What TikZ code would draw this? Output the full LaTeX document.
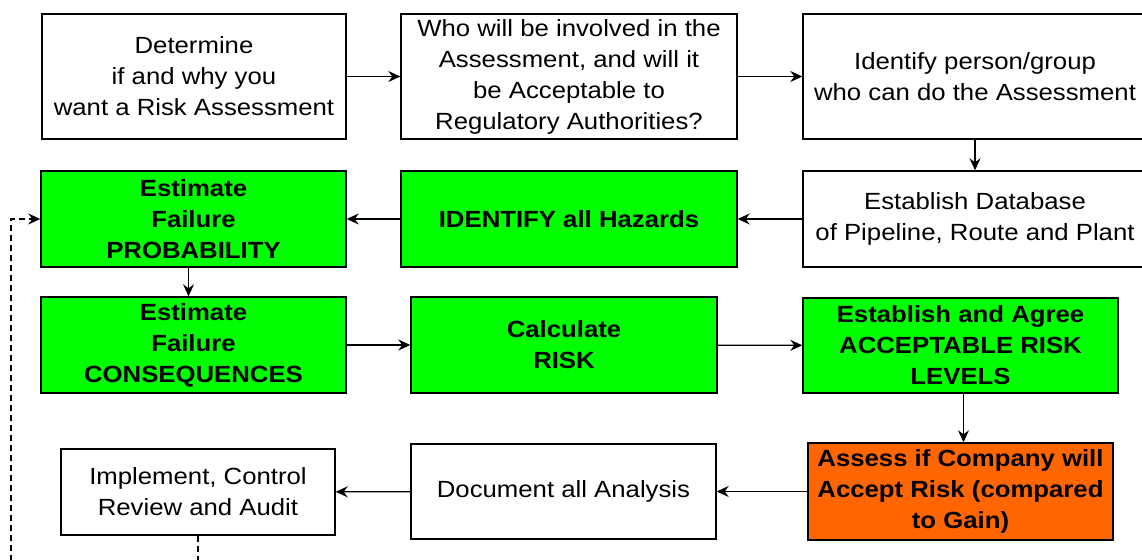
\documentclass[tikz,border=0pt]{standalone}
\usepackage{fontspec}
\setmainfont{Liberation Sans}[FakeStretch=1.1]
\usetikzlibrary{arrows.meta}

\definecolor{stepgreen}{RGB}{0,255,0}
\definecolor{steporange}{RGB}{255,102,0}

\begin{document}
\begin{tikzpicture}[x=1pt, y=-1pt,
    every node/.style={font=\fontsize{23.4}{31}\selectfont, align=center, inner sep=0pt},
    stepbox/.style={draw, line width=1.4pt, fill=white},
    riskbox/.style={stepbox, fill=stepgreen, font=\fontsize{23.4}{31}\selectfont\bfseries},
    gainbox/.style={stepbox, fill=steporange, font=\fontsize{23.4}{31}\selectfont\bfseries},
    flow/.style={line width=1.3pt, -{Stealth[length=12pt, width=11pt, inset=4pt]}}]
  \useasboundingbox (0,0) rectangle (1142,559);
  \clip (0,0) rectangle (1142,559);

  % First row
  \node[stepbox, minimum width=304, minimum height=125] (determine) at (194,76.5)
    {Determine\\ if and why you\\ want a Risk Assessment};
  \node[stepbox, minimum width=336, minimum height=125] (involved) at (569,76.5)
    {Who will be involved in the\\ Assessment, and will it\\ be Acceptable to\\ Regulatory Authorities?};
  \node[stepbox, minimum width=344, minimum height=125] (person) at (975,76.5)
    {Identify person/group\\ who can do the Assessment};

  % Second row
  \node[riskbox, minimum width=305, minimum height=96] (probability) at (193.5,219)
    {Estimate\\ Failure\\ PROBABILITY};
  \node[riskbox, minimum width=336, minimum height=96] (hazards) at (569,219)
    {IDENTIFY all Hazards};
  \node[stepbox, minimum width=344, minimum height=96] (database) at (975,219)
    {Establish Database\\ of Pipeline, Route and Plant};

  % Third row
  \node[riskbox, minimum width=305, minimum height=96] (consequences) at (193.5,345)
    {Estimate\\ Failure\\ CONSEQUENCES};
  \node[riskbox, minimum width=306, minimum height=96] (calculate) at (564,345)
    {Calculate\\ RISK};
  \node[riskbox, minimum width=315, minimum height=95] (levels) at (960.5,345.5)
    {Establish and Agree\\ ACCEPTABLE RISK\\ LEVELS};

  % Fourth row
  \node[gainbox, minimum width=305, minimum height=97] (accept) at (960.5,491.5)
    {Assess if Company will\\ Accept Risk (compared\\ to Gain)};
  \node[stepbox, minimum width=305, minimum height=95] (document) at (563.5,491.5)
    {Document all Analysis};
  \node[stepbox, minimum width=274, minimum height=86] (implement) at (198,492)
    {Implement, Control\\ Review and Audit};

  % Connectors
  \draw[flow] (determine) -- (involved);
  \draw[flow] (involved) -- (person);
  \draw[flow] (person) -- (database);
  \draw[flow] (database) -- (hazards);
  \draw[flow] (hazards) -- (probability);
  \draw[flow] ([xshift=-5pt]probability.south) -- ([xshift=-5pt]consequences.north);
  \draw[flow] (consequences) -- (calculate);
  \draw[flow] (calculate) -- (levels);
  \draw[flow] ([xshift=3pt]levels.south) -- ([xshift=3pt]accept.north);
  \draw[flow] (accept) -- (document);
  \draw[flow] (document) -- (implement);

  % Feedback loop
  \draw[flow, dash pattern=on 6pt off 4pt] (implement.south) -- (198,575) -| (11,219) -- (probability.west);
\end{tikzpicture}
\end{document}
